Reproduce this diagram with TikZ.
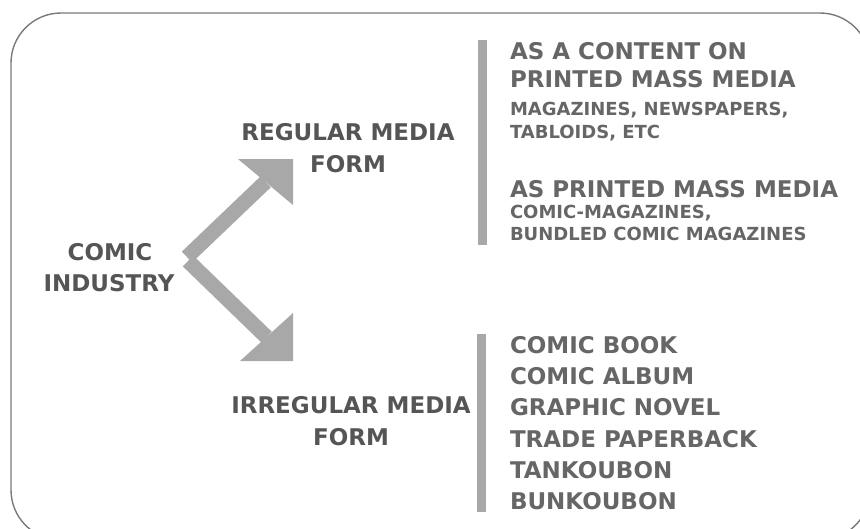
\documentclass[tikz,border=0pt]{standalone}
\usepackage{fontspec}
\setmainfont{DejaVu Sans}
\definecolor{framegray}{HTML}{7A7A7A}
\definecolor{labelgray}{HTML}{555555}
\definecolor{listgray}{HTML}{666666}
\definecolor{shapegray}{HTML}{A8A8A8}
\begin{document}
\begin{tikzpicture}[x=1pt,y=-1pt,
  every node/.style={inner sep=0pt,outer sep=0pt},
  bigtxt/.style={font=\bfseries\fontsize{23}{28}\selectfont},
  smalltxt/.style={font=\bfseries\fontsize{18}{22}\selectfont},
  label/.style={bigtxt,text=labelgray,anchor=base},
  entry/.style={bigtxt,text=listgray,anchor=base west},
  subentry/.style={smalltxt,text=listgray,anchor=base west},
  shaft/.style={line width=15pt,draw=shapegray,line cap=butt},
  headfill/.style={fill=shapegray},
  divider/.style={fill=shapegray}]
\useasboundingbox (0,0) rectangle (860,528);

% outer frame, running past the right and bottom edges
\begin{scope}
  \clip (0,0) rectangle (860,528);
  \draw[framegray,line width=1.4pt,rounded corners=50pt] (11,13) rectangle (870,540);
\end{scope}

% root label
\node[label] (comic) at (110,260) {COMIC};
\node[label] (industry) at (109,291) {INDUSTRY};

% branch labels
\node[label] (regular) at (348,140) {REGULAR MEDIA};
\node[label] (regform) at (348,172) {FORM};
\node[label] (irregular) at (351,413) {IRREGULAR MEDIA};
\node[label] (irrform) at (351,445) {FORM};

% block arrows from the root to the two branches
\coordinate (upstart) at (187,257);
\coordinate (upbase) at (265.5,182);
\coordinate (uptip) at (293,159);
\coordinate (lowstart) at (188,261);
\coordinate (lowbase) at (266.5,337);
\coordinate (lowtip) at (293,361);
\draw[shaft] (upstart) -- (upbase);
\fill[headfill] (238,159) -- (uptip) -- (293,205) -- cycle;
\draw[shaft] (lowstart) -- (lowbase);
\fill[headfill] (240,361) -- (lowtip) -- (293,313) -- cycle;

% dividers
\fill[divider] (478,40) rectangle (487,245);
\fill[divider] (477,334) rectangle (486,512);

% regular media list
\node[entry] (content1) at (510,59) {AS A CONTENT ON};
\node[entry] (content2) at (510,87) {PRINTED MASS MEDIA};
\node[subentry] (content3) at (510,115) {MAGAZINES, NEWSPAPERS,};
\node[subentry] (content4) at (510,138) {TABLOIDS, ETC};
\node[entry] (printed1) at (510,197) {AS PRINTED MASS MEDIA};
\node[subentry] (printed2) at (510,218) {COMIC-MAGAZINES,};
\node[subentry] (printed3) at (510,240) {BUNDLED COMIC MAGAZINES};

% irregular media list
\node[entry] (book) at (510,353) {COMIC BOOK};
\node[entry] (album) at (510,384.5) {COMIC ALBUM};
\node[entry] (novel) at (510,415.7) {GRAPHIC NOVEL};
\node[entry] (trade) at (510,447) {TRADE PAPERBACK};
\node[entry] (tank) at (510,478) {TANKOUBON};
\node[entry] (bunko) at (510,509) {BUNKOUBON};
\end{tikzpicture}
\end{document}
